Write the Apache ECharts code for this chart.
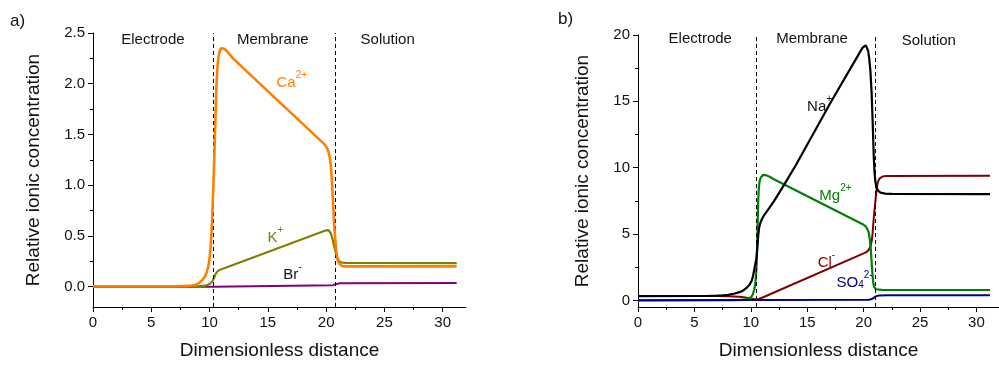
<!DOCTYPE html>
<html>
<head>
<meta charset="utf-8">
<script src="https://cdn.jsdelivr.net/npm/echarts@6/dist/echarts.min.js"></script>
<style>html,body{margin:0;padding:0;background:#fff}#c{width:999px;height:365px}</style>
</head>
<body>
<div id="c"></div>
<script>
// ---------- Panel a data ----------
const caA = [[0,0.005],[7,0.005],[8,0.008],[8.5,0.012],[8.8,0.02],[9.0,0.03],[9.2,0.045],[9.4,0.07],[9.6,0.1],[9.75,0.14],[9.9,0.2],[10.0,0.28],[10.1,0.4],[10.2,0.6],[10.3,0.9],[10.4,1.25],[10.5,1.65],[10.58,1.95],[10.65,2.12],[10.72,2.22],[10.8,2.29],[10.9,2.33],[11.0,2.35],[11.1,2.355],[11.25,2.345],[11.5,2.32],[12,2.25],[19.8,1.41],[19.95,1.39],[20.1,1.36],[20.2,1.33],[20.3,1.28],[20.4,1.2],[20.48,1.08],[20.55,0.93],[20.62,0.77],[20.7,0.6],[20.78,0.47],[20.85,0.37],[20.93,0.3],[21.0,0.26],[21.1,0.23],[21.2,0.215],[21.35,0.205],[21.6,0.2],[31.2,0.2]];
const kA = [[0,0],[8.5,0.002],[9.2,0.005],[9.6,0.01],[9.9,0.02],[10.1,0.035],[10.25,0.055],[10.4,0.09],[10.5,0.12],[10.6,0.14],[10.7,0.153],[10.8,0.162],[10.95,0.17],[11.2,0.18],[20.0,0.556],[20.1,0.56],[20.2,0.558],[20.3,0.548],[20.4,0.525],[20.5,0.49],[20.6,0.445],[20.7,0.395],[20.8,0.345],[20.9,0.3],[21.0,0.27],[21.1,0.252],[21.2,0.242],[21.4,0.236],[21.7,0.234],[31.2,0.233]];
const brA = [[0,0.0],[10.3,0.0],[20.6,0.015],[20.8,0.025],[20.95,0.032],[21.2,0.035],[31.2,0.036]];
// ---------- Panel b data ----------
const naB = [[0,0.32],[6,0.33],[7,0.35],[7.5,0.37],[8.0,0.42],[8.5,0.5],[9.0,0.62],[9.37,0.77],[9.7,1.0],[9.9,1.2],[10.09,1.5],[10.2,1.85],[10.3,2.3],[10.4,2.75],[10.5,3.2],[10.58,4.0],[10.66,4.9],[10.74,5.5],[10.85,5.85],[11.0,6.15],[11.2,6.45],[11.5,6.8],[12.0,7.4],[12.8,8.5],[14.0,10.2],[17.1,14.95],[19.6,18.6],[19.8,18.9],[19.95,19.08],[20.1,19.2],[20.2,19.22],[20.3,19.12],[20.4,18.8],[20.5,18.2],[20.6,17.3],[20.7,15.8],[20.8,13.5],[20.9,10.8],[20.97,9.6],[21.05,8.9],[21.15,8.5],[21.3,8.25],[21.5,8.12],[21.9,8.05],[22.5,8.02],[31.2,8.0]];
const mgB = [[0,0.0],[8.5,0.01],[9.2,0.03],[9.6,0.08],[9.9,0.17],[10.1,0.33],[10.2,0.5],[10.3,0.8],[10.4,1.3],[10.46,1.9],[10.52,2.7],[10.56,4.0],[10.6,5.5],[10.63,6.7],[10.66,7.6],[10.7,8.3],[10.75,8.8],[10.8,9.05],[10.9,9.28],[11.0,9.4],[11.1,9.46],[11.23,9.47],[11.4,9.42],[11.7,9.3],[12,9.15],[20.0,5.7],[20.1,5.64],[20.2,5.56],[20.3,5.45],[20.4,5.25],[20.48,5.0],[20.55,4.6],[20.62,4.0],[20.68,3.3],[20.74,2.5],[20.8,1.8],[20.86,1.3],[20.93,1.02],[21.0,0.9],[21.1,0.84],[21.25,0.8],[21.6,0.785],[22,0.78],[31.2,0.78]];
const clB = [[0,0.32],[7,0.32],[8,0.31],[8.5,0.3],[9.0,0.27],[9.5,0.22],[10.0,0.14],[10.3,0.1],[10.5,0.08],[10.6,0.08],[10.7,0.1],[10.85,0.14],[11.0,0.2],[20.2,3.62],[20.3,3.68],[20.4,3.75],[20.5,3.85],[20.58,4.0],[20.65,4.2],[20.72,4.5],[20.79,5.0],[20.86,5.8],[20.93,6.5],[21.0,7.1],[21.08,7.8],[21.15,8.35],[21.22,8.75],[21.3,9.0],[21.4,9.17],[21.5,9.26],[21.7,9.34],[22,9.38],[31.2,9.4]];
const so4B = [[0,0.0],[20.4,0.04],[20.6,0.06],[20.75,0.1],[20.85,0.16],[20.95,0.23],[21.05,0.29],[21.15,0.33],[21.3,0.36],[21.5,0.375],[22,0.38],[31.2,0.38]];
// ---------- axes / ticks ----------
const xTicks = [0,5,10,15,20,25,30];
const xMinor = [2.5,7.5,12.5,17.5,22.5,27.5];
const yTicksA = [0,0.5,1.0,1.5,2.0,2.5];
const yMinorA = [0.25,0.75,1.25,1.75,2.25];
const yTicksB = [0,5,10,15,20];
const yMinorB = [2.5,7.5,12.5,17.5];
const boundariesA = [10.3,20.8];
const boundariesB = [10.5,21.0];
const regionNames = ['Electrode','Membrane','Solution'];
const regionPosA = [[5.14,2.43],[15.42,2.43],[25.28,2.43]];
const regionPosB = [[5.52,19.7],[15.43,19.7],[25.78,19.55]];
const xName = 'Dimensionless distance';
const yName = 'Relative ionic concentration';

const FONT = '"Liberation Sans", Arial, sans-serif';
const fmtY = v => v.toFixed(1);

function xAxes(grid, ticks, minor){
  return [
    {type:'value', gridIndex:grid, min:0, max:32, position:'bottom',
     axisLine:{onZero:false, lineStyle:{color:'#000', width:1}},
     axisTick:{customValues:ticks, length:5, lineStyle:{color:'#000'}},
     axisLabel:{customValues:ticks, fontSize:15, color:'#111', margin:8, fontFamily:FONT},
     splitLine:{show:false},
     name:xName, nameLocation:'middle', nameGap:34,
     nameTextStyle:{fontSize:19, color:'#111', fontFamily:FONT}},
    {type:'value', gridIndex:grid, min:0, max:32, position:'bottom',
     axisLine:{show:false, onZero:false},
     axisTick:{customValues:minor, length:3, lineStyle:{color:'#000'}},
     axisLabel:{show:false}, splitLine:{show:false}}
  ];
}
function yAxes(grid, min, max, ticks, minor, fmt, gap){
  return [
    {type:'value', gridIndex:grid, min:min, max:max, position:'left',
     axisLine:{show:true, onZero:false, lineStyle:{color:'#000', width:1}},
     axisTick:{show:true, customValues:ticks, length:5, lineStyle:{color:'#000'}},
     axisLabel:{customValues:ticks, fontSize:15, color:'#111', margin:8, fontFamily:FONT, formatter:fmt},
     splitLine:{show:false},
     name:yName, nameLocation:'middle', nameGap:gap,
     nameTextStyle:{fontSize:19, color:'#111', fontFamily:FONT}},
    {type:'value', gridIndex:grid, min:min, max:max, position:'left',
     axisLine:{show:false, onZero:false},
     axisTick:{show:true, customValues:minor, length:3, lineStyle:{color:'#000'}},
     axisLabel:{show:false}, splitLine:{show:false}}
  ];
}

const richBase = {
  n:{fontSize:15, lineHeight:20, verticalAlign:'bottom', fontFamily:FONT},
  sup:{fontSize:10, lineHeight:20, verticalAlign:'top', fontFamily:FONT},
  sub:{fontSize:10, lineHeight:20, verticalAlign:'bottom', fontFamily:FONT}
};
function rich(color){
  const r = {};
  for (const k in richBase) r[k] = Object.assign({color:color}, richBase[k]);
  return r;
}
const hidden = {color:'rgba(0,0,0,0)', borderWidth:0};
function ionLabel(coord, text, color){
  return {coord:coord, symbol:'circle', symbolSize:1, itemStyle:hidden,
    label:{show:true, position:'inside', formatter:text, rich:rich(color)}};
}
function regionLabels(pos){
  return pos.map((p,i)=>({coord:p, symbol:'circle', symbolSize:1, itemStyle:hidden,
    label:{show:true, position:'inside', formatter:regionNames[i], fontSize:15, color:'#111', fontFamily:FONT}}));
}
function vLines(xs){
  return {silent:true, symbol:'none', label:{show:false},
    lineStyle:{color:'#000', type:[4,3], width:1},
    data: xs.map(x=>({xAxis:x}))};
}
function line(name, data, color, xi, yi, width, z, extra){
  return Object.assign({type:'line', name:name, data:data, xAxisIndex:xi, yAxisIndex:yi,
    showSymbol:false, symbol:'none', smooth:false, z:z,
    lineStyle:{color:color, width:width}, itemStyle:{color:color}}, extra||{});
}

const chart = echarts.init(document.getElementById('c'), null, {renderer:'canvas'});
const option = {
  animation:false,
  textStyle:{fontFamily:FONT},
  grid:[{left:93, top:33, width:373, height:274},
        {left:638, top:35, width:371, height:272}],
  xAxis:[...xAxes(0, xTicks, xMinor), ...xAxes(1, xTicks, xMinor)],
  yAxis:[...yAxes(0, -0.2, 2.5, yTicksA, yMinorA, fmtY, 50),
         ...yAxes(1, -0.5, 20, yTicksB, yMinorB, v=>String(v), 46)],
  graphic:[
    {type:'text', left:10, top:13, style:{text:'a)', fontSize:17, fill:'#111', fontFamily:FONT}},
    {type:'text', left:558, top:11, style:{text:'b)', fontSize:17, fill:'#111', fontFamily:FONT}}
  ],
  series:[
    line('Br-', brA, '#800080', 0, 0, 2, 3, {
      markLine: vLines(boundariesA),
      markPoint:{silent:true, z:20, data:[...regionLabels(regionPosA),
        ionLabel([17.05,2.03], '{n|Ca}{sup|2+}', '#FF8000'),
        ionLabel([15.64,0.51], '{n|K}{sup|+}', '#808000'),
        ionLabel([17.1,0.14], '{n|Br}{sup|-}', '#111')]}
    }),
    line('K+', kA, '#808000', 0, 0, 2.2, 4),
    line('Ca2+', caA, '#FF8000', 0, 0, 2.6, 5),
    line('Cl-', clB, '#800000', 2, 2, 2, 3, {
      markLine: vLines(boundariesB),
      markPoint:{silent:true, z:20, data:[...regionLabels(regionPosB),
        ionLabel([16.1,14.8], '{n|Na}{sup|+}', '#111'),
        ionLabel([17.5,8.1], '{n|Mg}{sup|2+}', '#008000'),
        ionLabel([16.7,3.0], '{n|Cl}{sup|-}', '#800000'),
        ionLabel([19.2,1.5], '{n|SO}{sub|4}{sup|2-}', '#000080')]}
    }),
    line('Mg2+', mgB, '#008000', 2, 2, 2.2, 4),
    line('Na+', naB, '#000000', 2, 2, 2.2, 5),
    line('SO4 2-', so4B, '#000080', 2, 2, 2, 6)
  ]
};
chart.setOption(option);
</script>
</body>
</html>
